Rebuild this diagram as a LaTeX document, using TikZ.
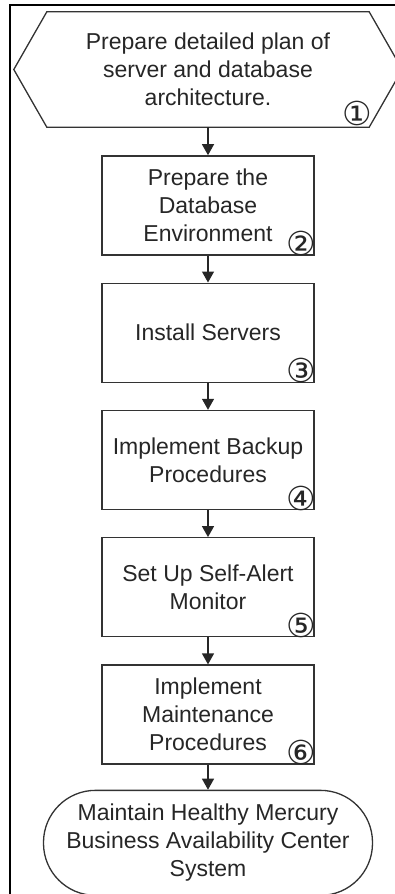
\documentclass[tikz,border=0pt]{standalone}
\usepackage{fontspec}
\setmainfont{Liberation Sans}
\newfontfamily\numfont{DejaVu Sans}
\usetikzlibrary{positioning,arrows.meta}

\begin{document}
\begin{tikzpicture}[x=1pt,y=1pt,
  txt/.style={align=center,text=black!85,font=\fontsize{23}{28}\selectfont,inner sep=0pt},
  stepbox/.style={txt,draw=black!80,line width=1.3pt,minimum width=212pt,minimum height=99pt},
  num/.style={font=\numfont\fontsize{33}{33}\selectfont,text=black!85,inner sep=0pt},
  flow/.style={draw=black!85,line width=1.3pt,-{Triangle[width=12pt,length=11pt]}}]

\useasboundingbox (0,0) rectangle (395,-894);

% frame
\path[draw=black,line width=1.5pt] (10,-900) -- (10,-5) -- (400,-5);

%step 1
\node[txt,minimum width=322pt,minimum height=115pt] (s1) at (208,-69.5) {Prepare detailed plan of\\server and database\\architecture.};
\path[draw=black!80,line width=1.3pt] (s1.north west) -- (s1.north east) -- ([xshift=33pt]s1.east) -- (s1.south east) -- (s1.south west) -- ([xshift=-33pt]s1.west) -- cycle;
\node[num] (n1) at (357,-113) {①};

%step 2
\node[stepbox,below=28pt of s1] (s2) {Prepare the\\Database\\Environment};
\node[num] (n2) at ([xshift=-13pt,yshift=12pt]s2.south east) {②};

%step 3
\node[stepbox,below=27pt of s2] (s3) {Install Servers};
\node[num] (n3) at ([xshift=-13pt,yshift=12pt]s3.south east) {③};

%step 4
\node[stepbox,below=27pt of s3] (s4) {Implement Backup\\Procedures};
\node[num] (n4) at ([xshift=-13pt,yshift=12pt]s4.south east) {④};

%step 5
\node[stepbox,below=27pt of s4] (s5) {Set Up Self-Alert\\Monitor};
\node[num] (n5) at ([xshift=-13pt,yshift=12pt]s5.south east) {⑤};

%step 6
\node[stepbox,below=27pt of s5] (s6) {Implement\\Maintenance\\Procedures};
\node[num] (n6) at ([xshift=-13pt,yshift=12pt]s6.south east) {⑥};

%end
\node[txt,draw=black!80,line width=1.3pt,rounded corners=52pt,minimum width=329pt,minimum height=105pt,below=25pt of s6] (s7) {Maintain Healthy Mercury\\Business Availability Center\\System};

\path[flow] (s1.south) -- (s2.north);
\path[flow] (s2.south) -- (s3.north);
\path[flow] (s3.south) -- (s4.north);
\path[flow] (s4.south) -- (s5.north);
\path[flow] (s5.south) -- (s6.north);
\path[flow] (s6.south) -- (s7.north);

\end{tikzpicture}
\end{document}
